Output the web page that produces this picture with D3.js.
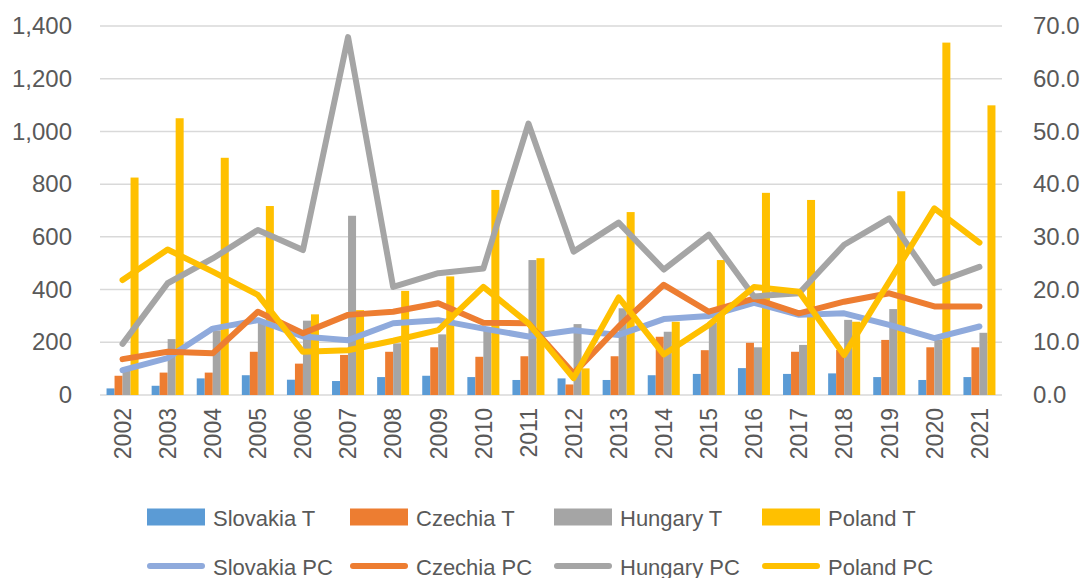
<!DOCTYPE html>
<html>
<head>
<meta charset="utf-8">
<script src="https://cdn.jsdelivr.net/npm/d3@7"></script>
<style>
  body { margin: 0; background: #fff; font-family: "Liberation Sans", Arial, sans-serif; }
  svg text { fill: #595959; }
</style>
</head>
<body>
<svg id="chart" width="1086" height="578"></svg>
<script>
// data
var years = ["2002","2003","2004","2005","2006","2007","2008","2009","2010","2011",
             "2012","2013","2014","2015","2016","2017","2018","2019","2020","2021"];

// totals (left axis)
var slovakiaT = [25,35,63,75,58,53,68,73,68,57,63,57,75,80,102,80,82,68,57,68];
var czechiaT  = [73,85,85,164,119,152,164,181,145,147,40,147,221,170,198,164,171,209,181,181];
var hungaryT  = [95,212,245,285,282,680,196,230,243,512,269,329,240,275,181,190,285,326,210,236];
var polandT   = [825,1050,900,717,306,322,395,450,778,519,101,694,278,512,767,740,278,773,1337,1099];

// per capita (right axis)
var slovakiaPC = [4.7,7.0,12.6,14.2,11.1,10.4,13.6,14.2,12.6,11.1,12.3,11.4,14.4,15.0,17.5,15.2,15.5,13.3,10.8,13.0];
var czechiaPC  = [6.8,8.2,7.9,15.8,11.7,15.2,15.8,17.4,13.7,13.6,4.1,13.0,20.9,15.8,18.3,15.5,17.7,19.3,16.8,16.8];
var hungaryPC  = [9.7,21.2,25.9,31.3,27.5,67.9,20.5,23.1,24.0,51.5,27.2,32.7,23.8,30.4,18.7,19.3,28.5,33.5,21.2,24.3];
var polandPC   = [21.8,27.6,23.4,19.0,8.2,8.5,10.3,12.3,20.5,13.6,3.2,18.5,7.7,13.3,20.5,19.6,7.6,21.5,35.4,28.9];

var leftTicks = [0,200,400,600,800,1000,1200,1400];
var rightTicks = [0,10,20,30,40,50,60,70];

var barSeries = [
  {name: "Slovakia T", values: slovakiaT, color: "#5B9BD5"},
  {name: "Czechia T", values: czechiaT, color: "#ED7D31"},
  {name: "Hungary T", values: hungaryT, color: "#A5A5A5"},
  {name: "Poland T", values: polandT, color: "#FFC000"}
];
var lineSeries = [
  {name: "Slovakia PC", values: slovakiaPC, color: "#8FAADC"},
  {name: "Czechia PC", values: czechiaPC, color: "#ED7D31"},
  {name: "Hungary PC", values: hungaryPC, color: "#A5A5A5"},
  {name: "Poland PC", values: polandPC, color: "#FFC000"}
];

var svg = d3.select("#chart");
var plotL = 100, plotR = 1002, plotT = 26, plotB = 395;

var x0 = d3.scaleBand().domain(years).range([plotL, plotR]).paddingInner(0.29).paddingOuter(0.145);
var x1 = d3.scaleBand().domain(barSeries.map(d => d.name)).range([0, x0.bandwidth()]);
var yL = d3.scaleLinear().domain([0, 1400]).range([plotB, plotT]);
var yR = d3.scaleLinear().domain([0, 70]).range([plotB, plotT]);

// gridlines
svg.append("g").selectAll("line").data(leftTicks).enter().append("line")
  .attr("x1", plotL).attr("x2", plotR)
  .attr("y1", d => yL(d)).attr("y2", d => yL(d))
  .attr("stroke", "#D9D9D9").attr("stroke-width", 1.5);

// left axis
var gl = svg.append("g").attr("transform", "translate(" + (plotL - 28) + ",0)")
  .call(d3.axisLeft(yL).tickValues(leftTicks).tickFormat(d3.format(",")).tickSize(0).tickPadding(0));
gl.select(".domain").remove();
gl.selectAll("text").attr("font-size", 24).attr("font-family", "Liberation Sans, Arial, sans-serif");

// right axis
var gr = svg.append("g").attr("transform", "translate(" + (plotR + 31) + ",0)")
  .call(d3.axisRight(yR).tickValues(rightTicks).tickFormat(d3.format(".1f")).tickSize(0).tickPadding(0));
gr.select(".domain").remove();
gr.selectAll("text").attr("font-size", 24).attr("font-family", "Liberation Sans, Arial, sans-serif");

// x labels
var gx = svg.append("g").attr("transform", "translate(0," + (plotB + 13) + ")")
  .call(d3.axisBottom(x0).tickSize(0).tickPadding(0));
gx.select(".domain").remove();
gx.selectAll("text")
  .attr("font-size", 23).attr("font-family", "Liberation Sans, Arial, sans-serif")
  .attr("transform", "rotate(-90)")
  .attr("text-anchor", "end")
  .attr("x", 0).attr("y", 0).attr("dy", "0.36em");

// bars
var groups = svg.append("g").selectAll("g").data(years).enter().append("g")
  .attr("transform", d => "translate(" + x0(d) + ",0)");
groups.selectAll("rect")
  .data((yr, i) => barSeries.map(s => ({name: s.name, color: s.color, v: s.values[i]})))
  .enter().append("rect")
  .attr("x", d => x1(d.name))
  .attr("width", x1.bandwidth())
  .attr("y", d => yL(d.v))
  .attr("height", d => plotB - yL(d.v))
  .attr("fill", d => d.color);

// lines
var line = d3.line()
  .x((d, i) => x0(years[i]) + x0.bandwidth() / 2)
  .y(d => yR(d));
svg.append("g").selectAll("path").data(lineSeries).enter().append("path")
  .attr("d", d => line(d.values))
  .attr("fill", "none")
  .attr("stroke", d => d.color)
  .attr("stroke-width", 6)
  .attr("stroke-linejoin", "round")
  .attr("stroke-linecap", "round");

// legend
var legX = [147, 350, 554, 762];
var leg1 = svg.append("g").selectAll("g").data(barSeries).enter().append("g")
  .attr("transform", (d, i) => "translate(" + legX[i] + ",517)");
leg1.append("rect").attr("x", 0).attr("y", -8.5).attr("width", 58).attr("height", 17)
  .attr("fill", d => d.color);
leg1.append("text").attr("x", 66).attr("y", 9).attr("font-size", 22).text(d => d.name);

var leg2 = svg.append("g").selectAll("g").data(lineSeries).enter().append("g")
  .attr("transform", (d, i) => "translate(" + legX[i] + ",566)");
leg2.append("line").attr("x1", 3).attr("x2", 55).attr("y1", 0).attr("y2", 0)
  .attr("stroke", d => d.color).attr("stroke-width", 6).attr("stroke-linecap", "round");
leg2.append("text").attr("x", 66).attr("y", 9).attr("font-size", 22).text(d => d.name);
</script>
</body>
</html>
